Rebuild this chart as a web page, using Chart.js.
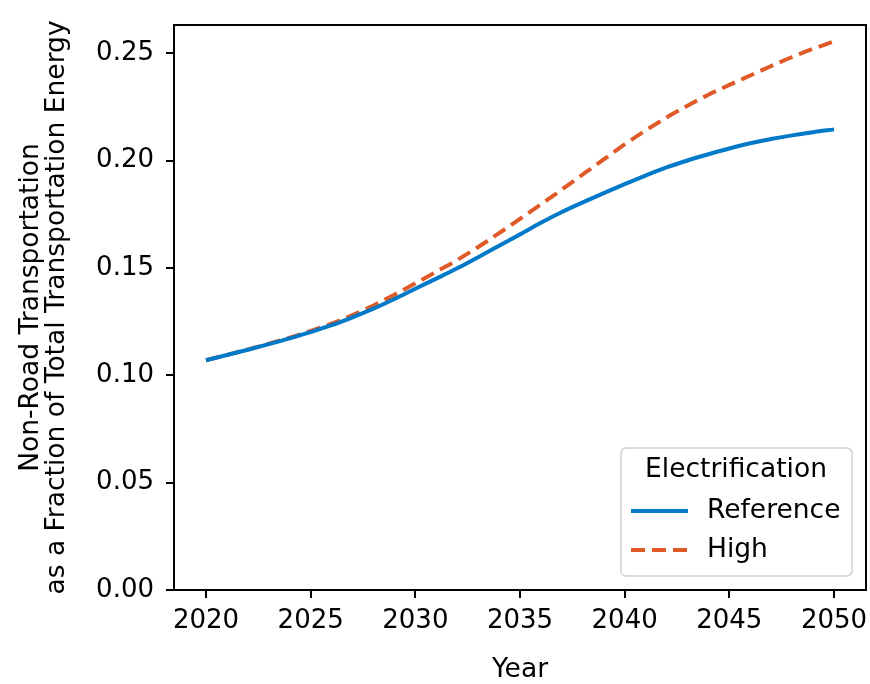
<!DOCTYPE html>
<html>
<head>
<meta charset="utf-8">
<script src="https://cdn.jsdelivr.net/npm/chart.js@4/dist/chart.umd.min.js"></script>
<style>
  html, body { margin: 0; padding: 0; background: #ffffff; }
  #wrap { width: 870px; height: 684px; position: relative; }
</style>
</head>
<body>
<div id="wrap"><canvas id="c" width="870" height="684"></canvas></div>
<script>
// ---- Data ----
const years = [2020,2021,2022,2023,2024,2025,2026,2027,2028,2029,2030,
               2031,2032,2033,2034,2035,2036,2037,2038,2039,2040,
               2041,2042,2043,2044,2045,2046,2047,2048,2049,2050];
const referenceValues = [0.1070,0.1094,0.1119,0.1145,0.1172,0.1201,0.1233,0.1270,0.1310,0.1355,0.1403,
                         0.1450,0.1498,0.1550,0.1603,0.1656,0.1710,0.1760,0.1805,0.1848,0.1890,
                         0.1930,0.1968,0.2000,0.2029,0.2056,0.2080,0.2100,0.2117,0.2132,0.2145];
const highValues = [0.1070,0.1095,0.1120,0.1147,0.1175,0.1206,0.1240,0.1280,0.1325,0.1375,0.1428,
                    0.1482,0.1537,0.1597,0.1662,0.1728,0.1796,0.1865,0.1935,0.2005,0.2075,
                    0.2140,0.2200,0.2255,0.2306,0.2352,0.2396,0.2440,0.2482,0.2520,0.2555];
const seriesLabels = ["Reference", "High"];
const legendTitle = "Electrification";
const xTicks = [2020, 2025, 2030, 2035, 2040, 2045, 2050];
const yTicks = [0.00, 0.05, 0.10, 0.15, 0.20, 0.25];
const xTitle = "Year";
const yTitle = ["Non-Road Transportation", "as a Fraction of Total Transportation Energy"];

const FONT = "'DejaVu Sans', 'Liberation Sans', sans-serif";
const BLUE = "#0079C8";
const ORANGE = "#E05A28";

const frame = {
  id: 'frame',
  afterDatasetsDraw(chart) {
    const {ctx, chartArea: a} = chart;
    ctx.save();
    ctx.strokeStyle = '#000';
    ctx.lineWidth = 2;
    ctx.strokeRect(a.left, a.top, a.right - a.left, a.bottom - a.top);
    ctx.restore();
  }
};

const insideLegend = {
  id: 'insideLegend',
  afterDraw(chart) {
    const {ctx} = chart;
    const bx = 621, by = 448, bw = 231, bh = 128, r = 5;
    ctx.save();
    ctx.beginPath();
    ctx.moveTo(bx + r, by);
    ctx.arcTo(bx + bw, by, bx + bw, by + bh, r);
    ctx.arcTo(bx + bw, by + bh, bx, by + bh, r);
    ctx.arcTo(bx, by + bh, bx, by, r);
    ctx.arcTo(bx, by, bx + bw, by, r);
    ctx.closePath();
    ctx.fillStyle = 'rgba(255,255,255,0.8)';
    ctx.fill();
    ctx.strokeStyle = '#d0d0d0';
    ctx.lineWidth = 1.5;
    ctx.stroke();

    ctx.fillStyle = '#000';
    ctx.font = '26.5px ' + FONT;
    ctx.textBaseline = 'middle';
    ctx.textAlign = 'center';
    ctx.fillText(legendTitle, 736, 470);

    const rows = [511, 550];
    chart.data.datasets.forEach((ds, i) => {
      const y = rows[i];
      ctx.save();
      ctx.strokeStyle = ds.borderColor;
      ctx.lineWidth = ds.borderWidth;
      ctx.setLineDash(ds.borderDash || []);
      ctx.beginPath();
      ctx.moveTo(631, y);
      ctx.lineTo(688, y);
      ctx.stroke();
      ctx.restore();
      ctx.fillStyle = '#000';
      ctx.textAlign = 'left';
      ctx.fillText(ds.label, 707, y);
    });
    ctx.restore();
  }
};

new Chart(document.getElementById('c'), {
  type: 'line',
  data: {
    datasets: [
      {
        label: seriesLabels[0],
        data: years.map((yr, i) => ({x: yr, y: referenceValues[i]})),
        borderColor: BLUE,
        backgroundColor: BLUE,
        borderWidth: 4,
        pointRadius: 0,
        cubicInterpolationMode: 'monotone',
        fill: false
      },
      {
        label: seriesLabels[1],
        data: years.map((yr, i) => ({x: yr, y: highValues[i]})),
        borderColor: ORANGE,
        backgroundColor: ORANGE,
        borderWidth: 4,
        borderDash: [14, 7],
        pointRadius: 0,
        cubicInterpolationMode: 'monotone',
        fill: false
      }
    ]
  },
  options: {
    responsive: false,
    animation: false,
    devicePixelRatio: 1,
    layout: { padding: { top: 25, right: 4, left: 0, bottom: 0 } },
    plugins: {
      legend: { display: false },
      tooltip: { enabled: false }
    },
    scales: {
      x: {
        type: 'linear',
        min: 2018.471,
        max: 2051.529,
        afterBuildTicks: s => { s.ticks = xTicks.map(v => ({value: v})); },
        afterFit: s => { s.height = 94; s.paddingLeft = 0; s.paddingRight = 0; },
        grid: { drawOnChartArea: false, drawTicks: true, tickLength: 8, color: '#000', lineWidth: 2 },
        border: { display: true, color: '#000', width: 2 },
        ticks: {
          color: '#000',
          font: { family: FONT, size: 26 },
          padding: 8,
          maxRotation: 0,
          callback: v => String(v)
        },
        title: {
          display: true,
          text: xTitle,
          color: '#000',
          font: { family: FONT, size: 26.5, lineHeight: '27px' },
          padding: { top: 0, bottom: 0 }
        }
      },
      y: {
        type: 'linear',
        min: 0,
        max: 0.2631,
        afterBuildTicks: s => { s.ticks = yTicks.map(v => ({value: v})); },
        afterFit: s => { s.width = 174; s.paddingTop = 0; s.paddingBottom = 0; },
        grid: { drawOnChartArea: false, drawTicks: true, tickLength: 8, color: '#000', lineWidth: 2 },
        border: { display: true, color: '#000', width: 2 },
        ticks: {
          color: '#000',
          font: { family: FONT, size: 26 },
          padding: 12,
          callback: v => Number(v).toFixed(2)
        },
        title: {
          display: true,
          text: yTitle,
          color: '#000',
          font: { family: FONT, size: 26.5, lineHeight: '26px' },
          padding: { top: 18, bottom: 0 }
        }
      }
    }
  },
  plugins: [frame, insideLegend]
});
</script>
</body>
</html>
